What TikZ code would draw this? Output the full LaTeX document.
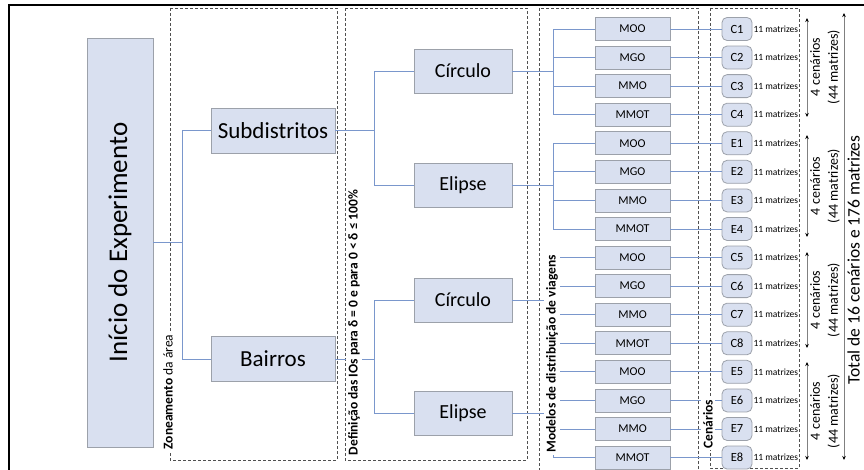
\documentclass[tikz,border=0pt]{standalone}
\usepackage{fontspec}
\setmainfont{Carlito}
\usetikzlibrary{arrows.meta}
\definecolor{boxfill}{HTML}{D9E0F0}
\definecolor{boxedge}{HTML}{9CA1AA}
\definecolor{linkblue}{HTML}{7A97CC}
\definecolor{zonedash}{HTML}{505050}
\tikzset{
	blk/.style={draw=boxedge, fill=boxfill, inner sep=0pt, line width=0.8pt},
	lnk/.style={draw=linkblue, line width=0.9pt},
	zone/.style={draw=zonedash, densely dashed, line width=0.6pt},
	tag/.style={fill=white, rotate=90, inner sep=2pt, font=\fontsize{13.5}{15}\selectfont},
	mdl/.style={blk, minimum width=75pt, minimum height=23pt, font=\fontsize{12}{14}\selectfont},
	scn/.style={blk, rounded corners=5pt, minimum width=30pt, minimum height=23pt, font=\fontsize{12.5}{14}\selectfont},
	mtx/.style={inner sep=1pt, font=\fontsize{9.5}{11}\selectfont},
	span/.style={draw=gray, line width=0.8pt, {Stealth[length=4pt, width=3.5pt, color=black]}-{Stealth[length=4pt, width=3.5pt, color=black]}},
	grp/.style={rotate=90, align=center, inner sep=1pt, font=\fontsize{14}{18}\selectfont}
}

\begin{document}
\begin{tikzpicture}[x=1pt, y=-1pt]
		%%%%% START %%%%%
		\useasboundingbox (0,0) rectangle (864,470);
		
		\draw[line width=2pt] (9,472) -- (9,5) -- (866,5);
		
		% zonas tracejadas
		\draw[zone] (170,8) rectangle (337,460);
		\draw[zone] (345,8) rectangle (527,460);
		\draw[zone] (539,8) rectangle (698,474);
		\draw[zone] (710,8) rectangle (799,468);
		
		% blocos principais
		\node[blk, rotate=90, minimum width=409pt, minimum height=66pt, font=\fontsize{27}{30}\selectfont] (inicio) at (120,242.5) {Início do Experimento};
		\node[blk, minimum width=124pt, minimum height=45pt, font=\fontsize{23}{26}\selectfont] (sub) at (273,130.5) {Subdistritos};
		\node[blk, minimum width=124pt, minimum height=45pt, font=\fontsize{23}{26}\selectfont] (bai) at (273,359) {Bairros};
		
		\node[blk, minimum width=98pt, minimum height=44pt, font=\fontsize{20}{24}\selectfont] (circA) at (463,71) {Círculo};
		\node[blk, minimum width=98pt, minimum height=44pt, font=\fontsize{20}{24}\selectfont] (elipA) at (463,185.5) {Elipse};
		\node[blk, minimum width=98pt, minimum height=44pt, font=\fontsize{20}{24}\selectfont] (circB) at (463,300) {Círculo};
		\node[blk, minimum width=98pt, minimum height=44pt, font=\fontsize{20}{24}\selectfont] (elipB) at (463,413.5) {Elipse};
		
		% modelos e cenarios
		\foreach \i/\mname/\sname in {1/MOO/C1, 2/MGO/C2, 3/MMO/C3, 4/MMOT/C4,
			5/MOO/E1, 6/MGO/E2, 7/MMO/E3, 8/MMOT/E4,
			9/MOO/C5, 10/MGO/C6, 11/MMO/C7, 12/MMOT/C8,
			13/MOO/E5, 14/MGO/E6, 15/MMO/E7, 16/MMOT/E8} {
			\node[mdl] (m\i) at (632.5,{29+28.57*(\i-1)}) {\mname};
			\node[scn] (s\i) at (737,{29+28.57*(\i-1)}) {\sname};
			\node[mtx, anchor=west] (x\i) at (s\i.east) {11 matrizes};
			\draw[lnk] (m\i) -- (s\i);
		}
		
		% ligacoes
		\coordinate (j0) at (182,242.5);
		\coordinate (j1) at (374,130.5);
		\coordinate (j2) at (374,359);
		\coordinate (ja) at (553,71);
		\coordinate (jb) at (553,185.5);
		\coordinate (jc) at (553,300);
		\coordinate (jd) at (553,413.5);
		
		\draw[lnk] (inicio) -- (j0);
		\draw[lnk] (j0) |- (sub);
		\draw[lnk] (j0) |- (bai);
		\draw[lnk] (sub) -- (j1);
		\draw[lnk] (j1) |- (circA);
		\draw[lnk] (j1) |- (elipA);
		\draw[lnk] (bai) -- (j2);
		\draw[lnk] (j2) |- (circB);
		\draw[lnk] (j2) |- (elipB);
		
		\draw[lnk] (circA) -- (ja);
		\draw[lnk] (elipA) -- (jb);
		\draw[lnk] (circB) -- (jc);
		\draw[lnk] (elipB) -- (jd);
		\foreach \i in {1,...,4} \draw[lnk] (ja) |- (m\i);
		\foreach \i in {5,...,8} \draw[lnk] (jb) |- (m\i);
		\foreach \i in {9,...,12} \draw[lnk] (jc) |- (m\i);
		\foreach \i in {13,...,16} \draw[lnk] (jd) |- (m\i);
		
		% rotulos das etapas
		\node[tag] (zlab) at (168,392) {\textbf{Zoneamento} da área};
		\node[tag, font=\fontsize{13.5}{15}\selectfont\bfseries] (dlab) at (354,322.5) {Definição das IOs para δ = 0 e para 0 < δ ≤ 100\%};
		\node[tag, font=\fontsize{13.5}{15}\selectfont\bfseries] (mlab) at (552,354) {Modelos de distribuição de viagens};
		\node[tag, font=\fontsize{13.5}{15}\selectfont\bfseries] (clab) at (708,424) {Cenários};
		
		% totais
		\coordinate (g1a) at (807,18);  \coordinate (g1b) at (807,117);
		\coordinate (g2a) at (807,135); \coordinate (g2b) at (807,237);
		\coordinate (g3a) at (807,252); \coordinate (g3b) at (807,348);
		\coordinate (g4a) at (807,362); \coordinate (g4b) at (807,460);
		\draw[span] (g1a) -- (g1b);
		\draw[span] (g2a) -- (g2b);
		\draw[span] (g3a) -- (g3b);
		\draw[span] (g4a) -- (g4b);
		\node[grp] (g1) at (825,67) {4 cenários\\(44 matrizes)};
		\node[grp] (g2) at (825,186) {4 cenários\\(44 matrizes)};
		\node[grp] (g3) at (825,300) {4 cenários\\(44 matrizes)};
		\node[grp] (g4) at (825,411) {4 cenários\\(44 matrizes)};
		
		\coordinate (ta) at (844,13); \coordinate (tb) at (844,460);
		\draw[span] (ta) -- (tb);
		\node[rotate=90, inner sep=1pt, font=\fontsize{17.5}{20}\selectfont] (tot) at (853.5,260) {Total de 16 cenários e 176 matrizes};
		
		%%%%% END %%%%%
	\end{tikzpicture}
\end{document}
